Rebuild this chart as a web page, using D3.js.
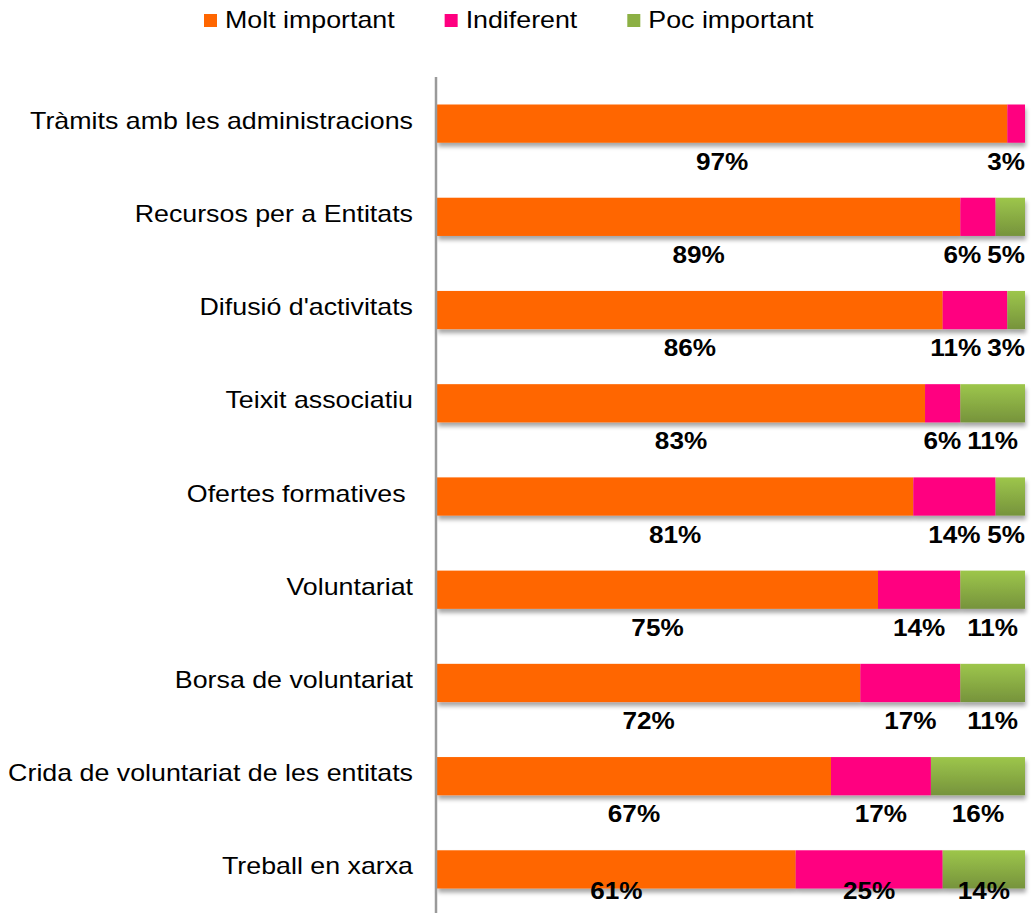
<!DOCTYPE html>
<html>
<head>
<meta charset="utf-8">
<script src="https://cdn.jsdelivr.net/npm/d3@7"></script>
<style>
  html, body { margin: 0; padding: 0; background: #fff; }
  svg { display: block; }
  text { font-family: "Liberation Sans", Arial, sans-serif; white-space: pre; }
</style>
</head>
<body>
<svg id="chart" width="1032" height="913"></svg>
<script>
// ---- data ----
const categories = [
  "Tràmits amb les administracions",
  "Recursos per a Entitats",
  "Difusió d'activitats",
  "Teixit associatiu",
  "Ofertes formatives ",
  "Voluntariat",
  "Borsa de voluntariat",
  "Crida de voluntariat de les entitats",
  "Treball en xarxa"
];
const seriesNames = ["Molt important", "Indiferent", "Poc important"];
const moltImportant = [97, 89, 86, 83, 81, 75, 72, 67, 61];
const indiferent    = [3, 6, 11, 6, 14, 14, 17, 17, 25];
const pocImportant  = [0, 5, 3, 11, 5, 11, 11, 16, 14];
const seriesValues = [moltImportant, indiferent, pocImportant];

// ---- layout ----
const W = 1032, H = 913;
const plot = { left: 437, right: 1025, top: 77, bottom: 916 };
const SX = 1.165;    // horizontal text stretch of the original
const SXL = 1.09;
const colors = ["#FF6600", "#FF0080", "url(#greenGrad)"];
const legendColors = ["#FF6600", "#FF0080", "#8CB044"];

const svg = d3.select("#chart");
const defs = svg.append("defs");
const g = defs.append("linearGradient").attr("id", "greenGrad")
  .attr("x1", 0).attr("y1", 0).attr("x2", 0).attr("y2", 1);
g.append("stop").attr("offset", "0%").attr("stop-color", "#9DC64B");
g.append("stop").attr("offset", "100%").attr("stop-color", "#76933C");
const f = defs.append("filter").attr("id", "shadow")
  .attr("x", "-5%").attr("y", "-20%").attr("width", "110%").attr("height", "160%");
f.append("feDropShadow").attr("dx", 1).attr("dy", 4).attr("stdDeviation", 2.2)
  .attr("flood-color", "#000").attr("flood-opacity", 0.35);

const x = d3.scaleLinear().domain([0, 100]).range([plot.left, plot.right]);
const y = d3.scaleBand().domain(categories).range([plot.top, plot.bottom])
  .paddingInner(0.59).paddingOuter(0.295);

// stacked data
const rows = categories.map((c, i) => {
  let acc = 0;
  const segs = seriesValues.map((vals, s) => {
    const v = vals[i];
    const seg = { cat: c, s, v, x0: acc, x1: acc + v };
    acc += v;
    return seg;
  });
  return { cat: c, segs };
});

// bars
const barG = svg.append("g").attr("filter", "url(#shadow)");
rows.forEach(r => {
  barG.selectAll(null).data(r.segs.filter(d => d.v > 0)).enter().append("rect")
    .attr("x", d => x(d.x0))
    .attr("width", d => x(d.x1) - x(d.x0))
    .attr("y", y(r.cat))
    .attr("height", y.bandwidth())
    .attr("fill", d => colors[d.s]);
});

// vertical axis
const axis = svg.append("g").attr("transform", `translate(${plot.left - 1},0)`)
  .call(d3.axisLeft(y).tickSize(0).tickFormat(""));
axis.select(".domain").attr("stroke", "#9a9a9a").attr("stroke-width", 2.5)
  .attr("d", `M0,${plot.top}V${H}`);

// category labels
svg.append("g").selectAll("text").data(categories).enter().append("text")
  .attr("transform", d => `translate(${plot.left - 24},${y(d) + y.bandwidth() / 2 + 5}) scale(${SX},1)`)
  .attr("text-anchor", "end")
  .attr("font-size", 23)
  .attr("fill", "#000")
  .text(d => d);

// value labels
const labG = svg.append("g");
rows.forEach(r => {
  const segs = r.segs.filter(d => d.v > 0);
  const baseY = Math.min(y(r.cat) + y.bandwidth() + 27, H - 14);
  const items = segs.map(d => {
    const t = labG.append("text")
      .attr("font-size", 24).attr("font-weight", "bold")
      .attr("text-anchor", "middle").attr("fill", "#000")
      .text(d.v + "%");
    const w = t.node().getComputedTextLength() * SXL;
    return { t, w, cx: (x(d.x0) + x(d.x1)) / 2 };
  });
  // resolve overlaps: keep inside right edge, push leftwards
  const gap = 6;
  for (let k = items.length - 1; k >= 0; k--) {
    const lim = (k === items.length - 1) ? plot.right : items[k + 1].cx - items[k + 1].w / 2 - gap;
    if (items[k].cx + items[k].w / 2 > lim) items[k].cx = lim - items[k].w / 2;
  }
  items.forEach(it => it.t.attr("transform", `translate(${it.cx},${baseY}) scale(${SXL},1)`));
});

// legend
const leg = svg.append("g");
let lx = 204;
seriesNames.forEach((n, i) => {
  leg.append("rect").attr("x", lx).attr("y", 14).attr("width", 13).attr("height", 13)
    .attr("fill", legendColors[i]);
  const t = leg.append("text").attr("font-size", 23).attr("fill", "#000")
    .attr("transform", `translate(${lx + 21},27.5) scale(${SX},1)`).text(n);
  lx += 21 + t.node().getComputedTextLength() * SX + 50;
});
</script>
</body>
</html>
